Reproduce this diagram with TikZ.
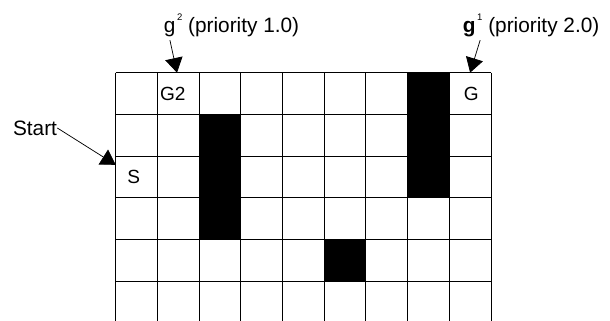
\documentclass[tikz,border=0pt]{standalone}
\usepackage{fontspec}
\setmainfont{Liberation Sans}
\usetikzlibrary{arrows.meta}
\newcommand{\goalidx}[1]{\raisebox{1.05ex}{\fontsize{6.5}{7}\selectfont\,#1}}

\begin{document}
\begin{tikzpicture}[
  lbl/.style={font=\fontsize{13}{15}\selectfont, inner sep=0pt},
  toplbl/.style={font=\fontsize{14.2}{17}\selectfont, inner sep=0pt},
  gridline/.style={line width=0.6pt},
  pointer/.style={-{Triangle[length=10pt,width=12pt]}, line width=0.5pt}
]
  \useasboundingbox (-2.775,-5.954) rectangle (11.854,1.743);
  % blocked cells
  \fill (2,-1) rectangle (3,-4);
  \fill (7,0) rectangle (8,-3);
  \fill (5,-4) rectangle (6,-5);
  % grid, open at the bottom
  \foreach \i in {0,...,9}
    \draw[gridline] (\i,0) -- (\i,-5.954);
  \foreach \j in {0,...,5}
    \draw[gridline] (0,-\j) -- (9,-\j);
  % cell labels
  \node[lbl] (goaltwo) at (1.37,-0.5) {G2};
  \node[lbl] (goalone) at (8.53,-0.5) {G};
  \node[lbl] (startcell) at (0.43,-2.5) {S};
  % goal priorities
  \node[toplbl, anchor=base west] (prioone) at (1.15,0.969) {g\goalidx{2} (priority 1.0)};
  \node[toplbl, anchor=base west] (priotwo) at (8.32,0.969) {\textbf{g}\goalidx{1} (priority 2.0)};
  \coordinate (tailtwo) at (1.30,0.78);
  \coordinate (tiptwo) at (1.47,0);
  \coordinate (tailone) at (8.74,0.78);
  \coordinate (tipone) at (8.50,0);
  \draw[pointer] (tailtwo) -- (tiptwo);
  \draw[pointer] (tailone) -- (tipone);
  % start
  \node[toplbl] (start) at (-1.935,-1.326) {Start};
  \coordinate (tipstart) at (0,-2.21);
  \draw[pointer] (start.east) -- (tipstart);
\end{tikzpicture}
\end{document}
